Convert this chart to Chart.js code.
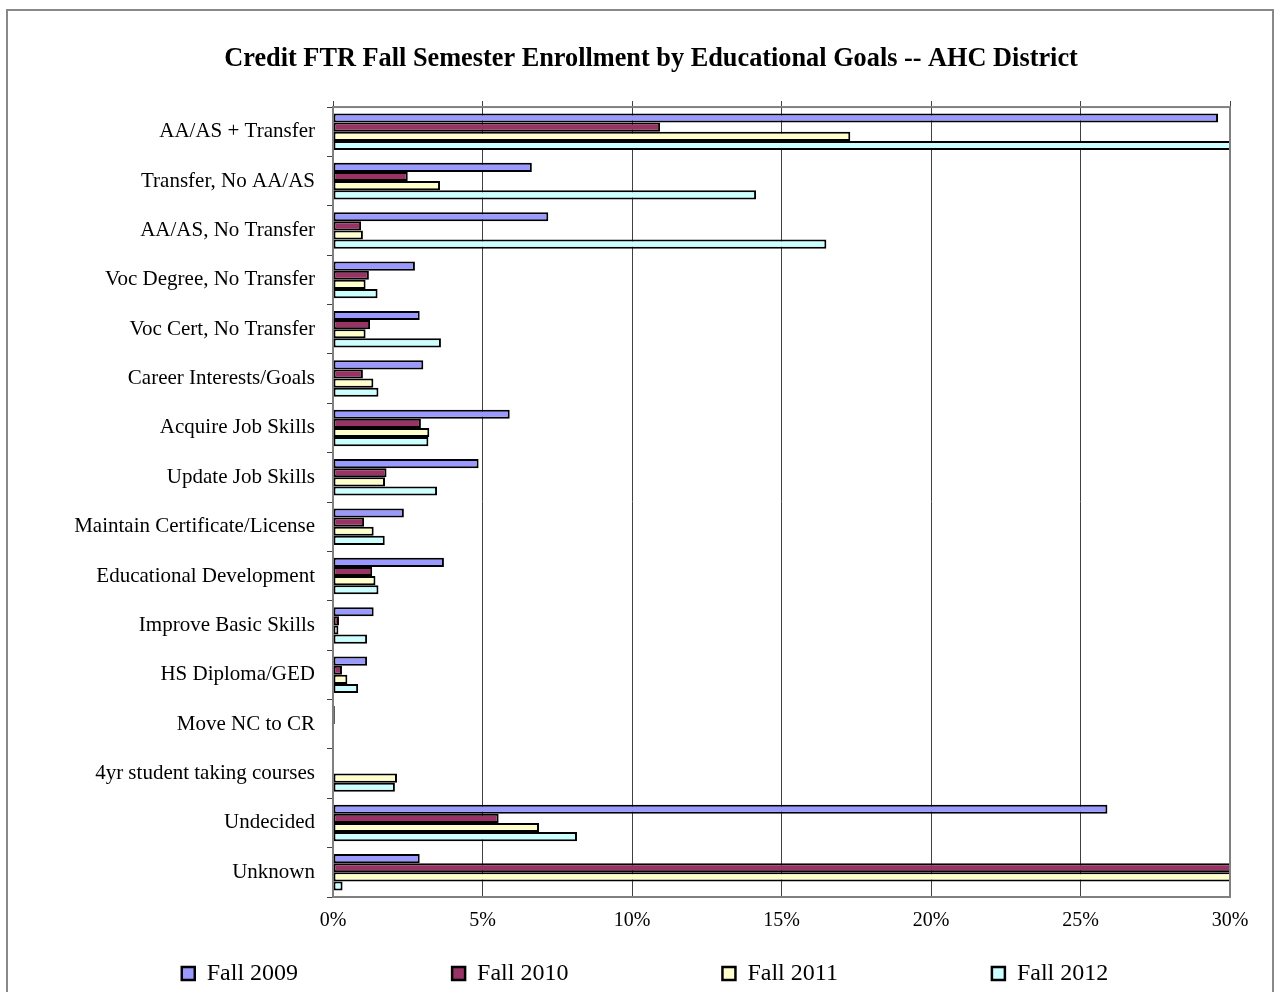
<!DOCTYPE html>
<html>
<head>
<meta charset="utf-8">
<script src="https://cdn.jsdelivr.net/npm/chart.js@4.4.1/dist/chart.umd.min.js"></script>
<style>
  body { margin: 0; background: #fff; overflow: hidden; }
  #frame { position: absolute; left: 6px; top: 9px; width: 1264px; height: 1000px; border: 2px solid #888; }
  #chart { display: block; }
</style>
</head>
<body>
<div id="frame"><canvas id="chart" width="1264" height="990"></canvas></div>
<script>
const categories = [
  'AA/AS + Transfer', 'Transfer, No AA/AS', 'AA/AS, No Transfer', 'Voc Degree, No Transfer',
  'Voc Cert, No Transfer', 'Career Interests/Goals', 'Acquire Job Skills', 'Update Job Skills',
  'Maintain Certificate/License', 'Educational Development', 'Improve Basic Skills', 'HS Diploma/GED',
  'Move NC to CR', '4yr student taking courses', 'Undecided', 'Unknown'
];
const seriesNames = ['Fall 2009', 'Fall 2010', 'Fall 2011', 'Fall 2012'];
// percent of enrollment; values past 30% run off the axis in the original
const fall2009 = [29.6, 6.65, 7.2, 2.74, 2.9, 3.02, 5.91, 4.87, 2.37, 3.71, 1.36, 1.14, 0.06, 0, 25.9, 2.9];
const fall2010 = [10.94, 2.5, 0.94, 1.2, 1.24, 1.0, 2.94, 1.79, 1.04, 1.31, 0.2, 0.3, 0.06, 0, 5.54, 35];
const fall2011 = [17.3, 3.58, 1.0, 1.09, 1.09, 1.35, 3.22, 1.74, 1.36, 1.42, 0.18, 0.48, 0, 2.14, 6.89, 34];
const fall2012 = [32, 14.15, 16.5, 1.49, 3.61, 1.52, 3.19, 3.48, 1.73, 1.52, 1.14, 0.84, 0, 2.07, 8.16, 0.32];
const colors = ['#9999ff', '#993366', '#ffffcc', '#ccffff'];
const xTicks = [0, 5, 10, 15, 20, 25, 30];

const serif = '"Liberation Serif", "Times New Roman", serif';

// gray frame round the plot area
const plotFrame = {
  id: 'plotFrame',
  afterDatasetsDraw(chart) {
    const a = chart.chartArea, ctx = chart.ctx;
    ctx.save();
    ctx.strokeStyle = '#808080';
    ctx.lineWidth = 2;
    ctx.strokeRect(a.left, a.top, a.right - a.left, a.bottom - a.top);
    ctx.restore();
  }
};

const data = [fall2009, fall2010, fall2011, fall2012];
new Chart(document.getElementById('chart'), {
  type: 'bar',
  data: {
    labels: categories,
    datasets: seriesNames.map((name, i) => ({
      label: name,
      data: data[i],
      backgroundColor: colors[i],
      borderColor: '#000',
      borderWidth: 2,
      borderSkipped: false,
      categoryPercentage: 0.74,
      barPercentage: 1.0,
      clip: 0
    }))
  },
  options: {
    indexAxis: 'y',
    responsive: false,
    animation: false,
    layout: { padding: { left: 64, right: 42, top: 0, bottom: 5.5 } },
    plugins: {
      title: {
        display: true,
        text: 'Credit FTR Fall Semester Enrollment by Educational Goals -- AHC District',
        color: '#000',
        font: { family: serif, size: 26.3, weight: 'bold' },
        padding: { top: 32, bottom: 26.5 }
      },
      legend: {
        position: 'bottom',
        labels: {
          color: '#000',
          font: { family: serif, size: 24 },
          boxWidth: 13,
          boxHeight: 13,
          padding: 10,
          // pad the entries so the four keys spread out like the original
          generateLabels(chart) {
            const items = Chart.defaults.plugins.legend.labels.generateLabels(chart);
            items.forEach((it, i) => {
              it.lineWidth = 2.5;
              it.strokeStyle = '#000';
              it.text = it.text + '\u2002'.repeat(i < items.length - 1 ? 12 : 1);
            });
            return items;
          }
        }
      },
      tooltip: { enabled: false }
    },
    scales: {
      x: {
        min: 0,
        max: 30,
        afterBuildTicks(s) { s.ticks = xTicks.map(v => ({ value: v })); },
        afterFit(s) { s.height = 54.5; },
        ticks: {
          color: '#000',
          font: { family: serif, size: 20 },
          padding: 12,
          callback: v => v + '%'
        },
        grid: { color: '#404040', lineWidth: 1, drawTicks: false },
        border: { color: '#808080', width: 2 }
      },
      // only draws the short grid stubs above the plot
      x2: {
        position: 'top',
        min: 0,
        max: 30,
        afterBuildTicks(s) { s.ticks = xTicks.map(v => ({ value: v })); },
        afterFit(s) { s.height = 6; },
        ticks: { display: false },
        grid: { drawOnChartArea: false, tickLength: 6, tickColor: '#404040' },
        border: { display: false }
      },
      y: {
        afterFit(s) { s.width = 261; },
        ticks: {
          color: '#000',
          font: { family: serif, size: 21 },
          padding: 12,
          autoSkip: false
        },
        grid: { drawOnChartArea: false, tickLength: 6, tickColor: '#404040' },
        border: { color: '#808080', width: 2 }
      }
    }
  },
  plugins: [plotFrame]
});
</script>
</body>
</html>
